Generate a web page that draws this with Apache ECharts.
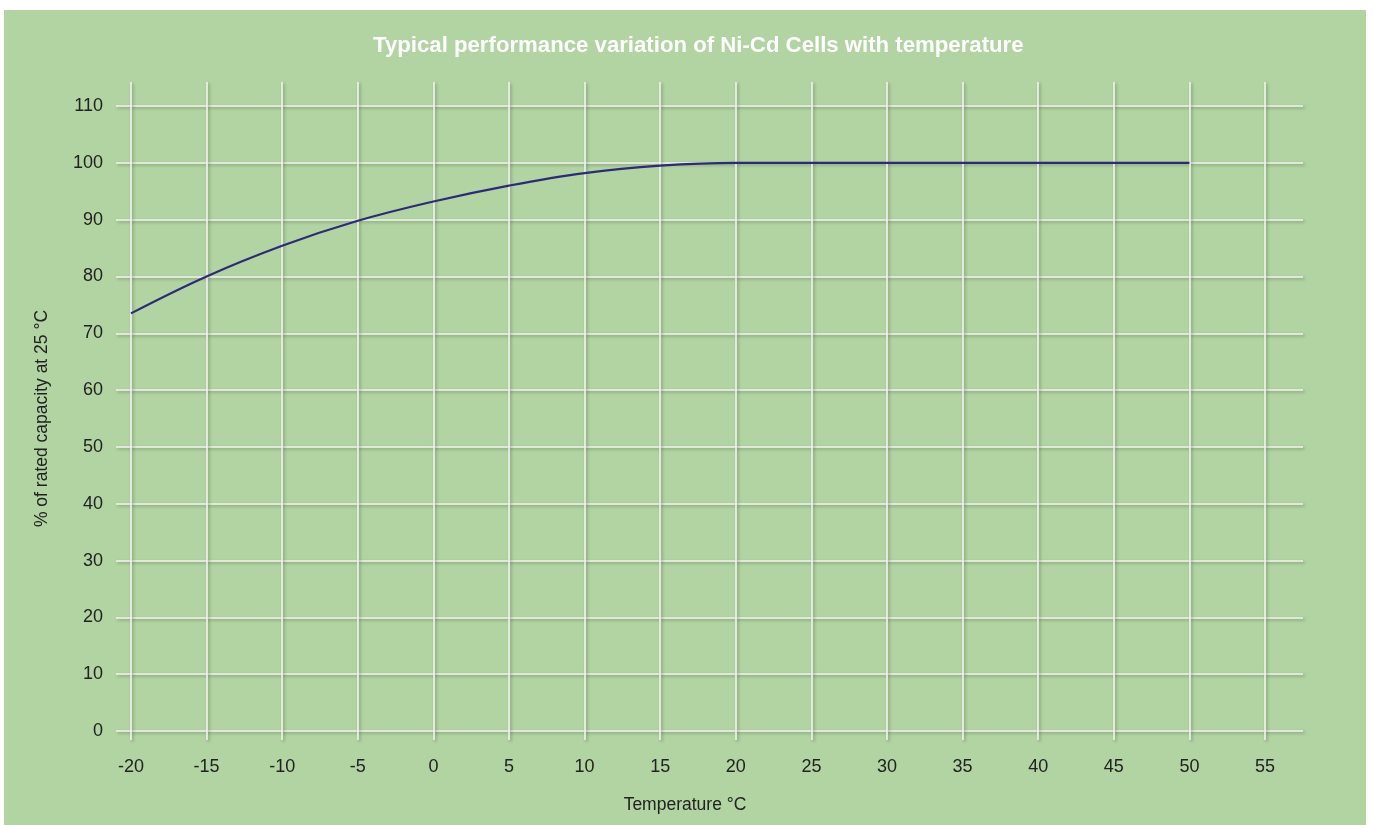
<!DOCTYPE html>
<html><head><meta charset="utf-8">
<script src="https://cdn.jsdelivr.net/npm/echarts@6/dist/echarts.min.js"></script>
<style>html,body{margin:0;padding:0;background:#fff;}#c{width:1373px;height:825px;}</style>
</head><body><div id="c"></div>
<script>
const temperatures = [-20, -15, -10, -5, 0, 5, 10, 15, 20, 25, 30, 35, 40, 45, 50];
const capacity = [73.5, 80, 85.4, 89.8, 93.2, 96, 98.2, 99.5, 100, 100, 100, 100, 100, 100, 100];
const titleText = 'Typical performance variation of Ni-Cd Cells with temperature';
const yName = '% of rated capacity at 25 °C';
const xName = 'Temperature °C';

const font = '"Liberation Sans", Arial, Helvetica, sans-serif';
const gridLine = {color:'#f4f4f0', width:1.6, shadowColor:'rgba(60,70,50,0.45)', shadowBlur:3, shadowOffsetX:1.5, shadowOffsetY:1.5};
const chart = echarts.init(document.getElementById('c'));
chart.setOption({
  backgroundColor:'transparent',
  animation:false,
  graphic:[
    {type:'rect', z:-10, shape:{x:4, y:10, width:1362, height:815}, style:{fill:'#b1d4a2'}},
    {type:'text', x:685, y:805, style:{text:xName, fill:'#222', font:'17.5px ' + font, align:'center', verticalAlign:'middle'}}
  ],
  title:{text:titleText, left:368, top:30, textStyle:{color:'#ffffff', fontSize:22.2, fontWeight:'bold', fontFamily:font}},
  grid:[
    {left:116, right:70, top:106, bottom:94},
    {left:131, right:108, top:82, bottom:85}
  ],
  xAxis:[
    {gridIndex:0, type:'value', min:-20.99, max:57.51, show:false, splitLine:{show:false}},
    {gridIndex:1, type:'value', min:-20, max:55, interval:5,
     axisLine:{show:false}, axisTick:{show:false},
     axisLabel:{color:'#222', fontSize:18, fontFamily:font, margin:18},
     splitLine:{show:true, lineStyle:gridLine}}
  ],
  yAxis:[
    {gridIndex:0, type:'value', min:0, max:110, interval:10,
     axisLine:{show:false}, axisTick:{show:false},
     axisLabel:{color:'#222', fontSize:18, fontFamily:font, margin:13},
     splitLine:{show:true, lineStyle:gridLine},
     name:yName, nameLocation:'middle', nameGap:65, nameRotate:90,
     nameTextStyle:{color:'#222', fontSize:17.5, fontFamily:font}},
    {gridIndex:1, type:'value', min:0, max:100, show:false, splitLine:{show:false}}
  ],
  series:[{
    type:'line', xAxisIndex:0, yAxisIndex:0, smooth:0.4, symbol:'none',
    lineStyle:{color:'#2d2a78', width:2.2},
    data:temperatures.map((t,i)=>[t, capacity[i]]),
    z:5
  }]
});
</script></body></html>
